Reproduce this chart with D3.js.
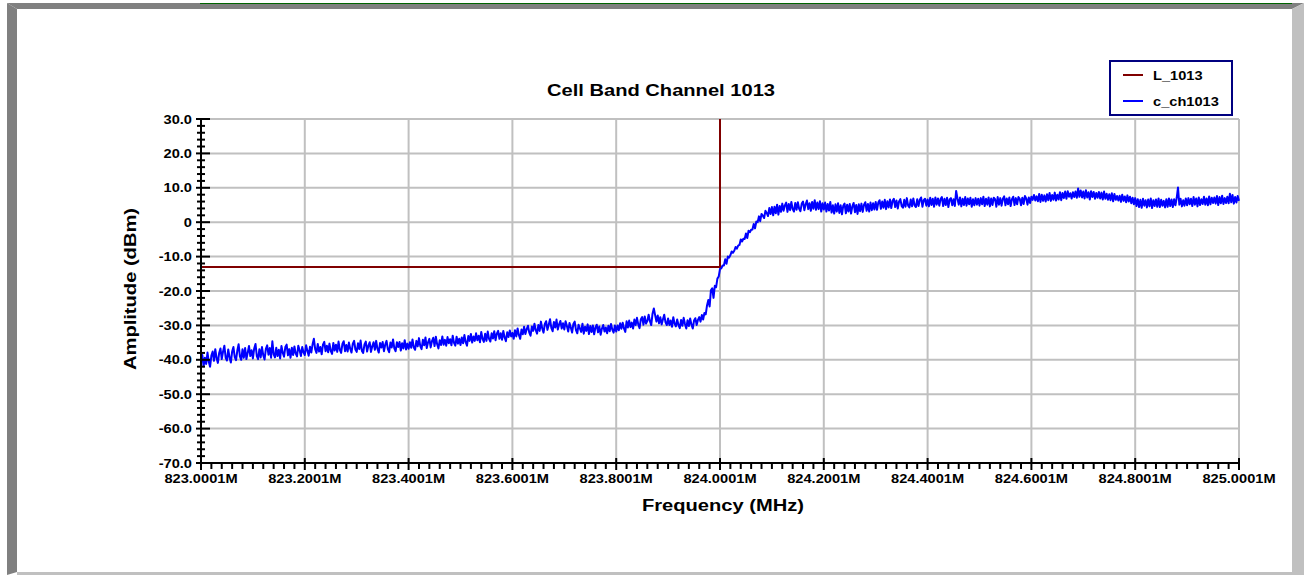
<!DOCTYPE html>
<html>
<head>
<meta charset="utf-8">
<script src="https://cdn.jsdelivr.net/npm/d3@7"></script>
<style>
  body { margin: 0; background: #fff; }
  text { font-family: "Liberation Sans", Arial, sans-serif; font-weight: bold; fill: #000; }
</style>
</head>
<body>
<script>
// chart data
const title = "Cell Band Channel 1013";
const xTicks = [823.0001, 823.2001, 823.4001, 823.6001, 823.8001, 824.0001, 824.2001, 824.4001, 824.6001, 824.8001, 825.0001];
const yTicks = [-70, -60, -50, -40, -30, -20, -10, 0, 10, 20, 30];
const seriesNames = ["L_1013", "c_ch1013"];
const seriesColors = ["#800000", "#0000ff"];

// limit line: [freq, dBm]
const limitLine = [[823.0001, -13], [824.0001, -13], [824.0001, 30]];

// measured trace, one value every 0.0025 MHz starting at 823.0001
const traceStart = 823.0001;
const traceStep = 0.0025;
const trace = [
  -40.8,-38.6,-41.9,-39.4,-41.2,-37.9,-40.6,-42.0,-38.8,-37.6,-40.3,-36.9,-39.5,-40.9,-38.0,-36.7,-39.8,-37.6,-35.9,-39.4,
  -40.2,-37.0,-39.3,-40.8,-37.6,-36.3,-39.2,-40.1,-37.3,-35.5,-39.0,-40.0,-36.9,-39.4,-36.6,-39.8,-37.9,-36.0,-38.9,-37.2,
  -39.6,-36.7,-35.4,-38.9,-39.8,-36.9,-39.3,-36.3,-38.7,-39.9,-36.8,-35.8,-38.5,-36.6,-39.4,-34.6,-38.4,-39.3,-36.5,-38.9,
  -37.1,-39.6,-36.0,-37.9,-39.1,-36.3,-35.6,-38.7,-36.9,-39.4,-36.5,-38.6,-36.1,-38.2,-39.0,-35.9,-37.2,-38.9,-36.3,-37.8,
  -38.6,-35.8,-37.4,-38.8,-36.2,-37.9,-35.5,-33.9,-36.9,-38.0,-35.4,-37.6,-36.3,-38.4,-35.6,-34.8,-37.5,-35.9,-37.8,-35.3,
  -37.4,-38.3,-35.1,-37.3,-35.6,-37.7,-34.7,-37.1,-38.0,-35.4,-34.6,-37.5,-35.7,-37.6,-35.0,-36.8,-37.9,-35.3,-34.5,-37.0,
  -37.7,-35.2,-36.9,-34.4,-37.4,-38.0,-35.5,-34.7,-37.6,-35.9,-34.9,-37.7,-36.1,-34.9,-37.1,-34.5,-36.8,-37.9,-35.1,-36.4,
  -34.8,-37.5,-35.6,-34.5,-36.9,-37.8,-35.0,-36.4,-34.1,-36.7,-37.5,-34.9,-36.3,-34.8,-37.3,-35.2,-36.7,-34.3,-37.0,-35.3,
  -36.8,-34.9,-36.5,-34.1,-36.4,-37.1,-34.5,-36.1,-33.7,-36.0,-36.9,-34.2,-35.8,-33.5,-36.6,-34.9,-33.9,-36.4,-34.6,-33.6,
  -36.0,-33.3,-35.5,-36.7,-34.3,-35.7,-33.2,-35.6,-34.2,-35.9,-33.4,-35.2,-34.0,-35.8,-33.0,-35.1,-35.9,-33.3,-35.3,-33.9,
  -35.7,-33.5,-35.2,-32.8,-34.9,-35.9,-33.1,-34.5,-32.5,-35.0,-33.2,-34.5,-32.3,-34.3,-33.0,-34.9,-31.9,-33.9,-34.8,-32.4,
  -34.5,-31.8,-33.9,-34.7,-32.3,-33.8,-31.7,-34.3,-32.4,-31.6,-33.9,-32.3,-34.2,-31.6,-33.5,-34.6,-32.0,-33.4,-31.5,-33.2,
  -32.2,-33.9,-31.4,-33.2,-30.9,-32.8,-33.9,-31.2,-32.6,-30.4,-32.5,-31.1,-30.1,-32.1,-33.0,-30.3,-31.6,-29.5,-31.4,-32.4,
  -29.9,-31.6,-28.9,-30.9,-32.1,-29.6,-28.8,-31.3,-29.8,-28.2,-30.7,-31.7,-29.0,-30.6,-28.3,-31.2,-29.7,-28.7,-30.9,-29.4,
  -31.2,-28.8,-30.2,-31.8,-29.3,-30.6,-32.1,-29.6,-28.9,-31.4,-32.3,-29.8,-30.9,-31.9,-29.5,-32.4,-30.4,-31.6,-29.7,-32.5,
  -30.2,-31.9,-30.0,-32.6,-30.6,-29.8,-32.0,-30.3,-32.7,-30.9,-29.9,-31.8,-30.6,-32.3,-30.1,-31.7,-29.6,-31.2,-32.1,-30.0,
  -31.8,-30.0,-31.4,-29.4,-31.0,-29.2,-30.9,-31.9,-28.8,-30.6,-28.6,-30.5,-29.2,-30.9,-28.3,-29.9,-27.8,-29.7,-30.8,-28.2,
  -27.6,-29.8,-27.4,-29.5,-28.7,-26.9,-28.8,-29.9,-26.6,-25.1,-27.0,-28.9,-27.1,-29.4,-27.6,-29.7,-28.3,-26.9,-29.1,-29.9,
  -28.0,-29.9,-28.6,-30.4,-27.6,-29.5,-30.3,-28.3,-29.9,-30.8,-28.4,-30.1,-27.8,-29.6,-30.9,-28.5,-30.2,-28.0,-29.8,-30.9,
  -28.6,-27.9,-29.9,-28.4,-27.6,-28.9,-27.0,-28.3,-26.4,-26.8,-24.2,-22.6,-24.5,-19.8,-19.2,-22.0,-18.5,-18.9,-16.4,-15.8,
  -13.6,-13.4,-12.6,-12.6,-10.8,-12.1,-10.0,-10.3,-9.6,-8.5,-8.9,-8.3,-7.2,-7.7,-6.8,-6.6,-5.0,-5.6,-4.8,-4.9,
  -3.3,-4.6,-2.5,-2.9,-2.2,-2.1,-0.5,-1.8,0.2,0.0,1.7,0.3,2.4,1.9,1.2,3.3,2.7,1.8,4.1,2.4,
  4.4,2.0,4.5,2.6,5.1,2.2,4.7,3.0,5.4,3.3,4.9,5.7,3.0,5.3,3.5,5.9,3.8,3.1,5.6,3.6,
  5.8,3.9,3.2,5.4,6.0,3.5,5.2,6.3,3.8,5.5,3.3,5.9,3.9,6.4,3.6,5.7,3.8,6.1,3.1,5.5,
  3.7,5.7,3.1,5.3,3.4,5.9,2.8,4.9,2.5,5.2,3.1,5.5,2.7,4.9,2.3,4.8,5.4,2.6,5.1,3.1,
  5.3,2.5,4.6,5.6,2.9,5.0,2.4,5.2,3.2,5.4,3.0,5.1,5.8,3.3,5.3,3.1,5.7,3.5,5.5,3.7,
  5.9,3.6,5.7,6.4,3.9,6.0,4.2,6.5,3.8,6.1,4.3,6.6,4.1,6.2,6.8,4.4,6.3,4.0,6.0,6.7,
  4.7,4.2,6.5,4.5,7.0,4.8,4.3,6.6,4.6,6.9,4.9,4.4,6.7,4.7,6.5,7.2,4.5,6.4,6.8,4.8,
  6.6,4.6,7.1,5.0,6.8,4.5,7.2,5.1,6.9,4.8,6.7,7.3,4.7,6.8,5.0,7.1,4.4,6.6,7.0,4.9,
  6.7,4.7,9.1,6.9,5.1,7.2,4.6,6.8,5.0,7.3,4.8,6.9,5.2,7.1,4.5,6.7,4.9,7.0,5.1,6.8,
  4.8,7.0,5.2,7.4,4.7,6.8,5.1,7.2,4.6,6.9,5.0,7.1,6.7,4.5,7.3,5.1,7.0,4.8,6.8,7.5,
  4.9,6.9,5.2,7.2,4.7,6.7,7.4,5.0,7.0,5.2,7.3,6.8,4.9,7.1,5.3,7.6,6.9,5.1,7.2,5.6,
  7.4,6.5,7.9,6.3,7.5,6.1,8.2,5.9,8.0,6.2,7.8,6.0,8.1,6.4,8.5,6.2,7.9,6.5,8.6,6.3,
  8.0,6.6,8.7,6.4,8.5,7.0,8.9,6.8,9.0,7.4,8.4,6.9,8.7,7.3,8.9,7.1,9.8,7.4,9.2,7.2,
  8.9,6.9,9.3,7.2,8.7,6.6,9.0,7.3,8.8,6.8,8.5,7.1,8.8,6.9,8.6,6.6,8.9,6.8,8.3,6.5,
  8.1,6.4,8.4,6.1,8.2,6.5,7.6,6.3,7.7,5.9,8.0,6.2,7.5,5.8,7.8,6.0,7.4,5.5,7.1,5.2,
  7.0,4.7,6.7,4.4,6.5,4.2,6.8,4.8,6.4,4.3,6.6,4.6,6.9,4.1,6.4,4.7,6.6,4.5,6.9,4.4,
  6.5,4.8,6.2,4.3,6.7,4.5,6.9,4.7,6.6,4.4,6.7,4.9,7.1,10.1,5.1,6.8,4.6,6.4,4.8,6.9,
  4.9,7.0,5.2,6.8,4.7,7.3,5.1,6.9,4.6,7.2,5.0,6.7,5.3,7.4,5.1,6.9,4.9,7.5,5.2,7.1,
  5.6,7.2,5.4,7.6,5.0,7.3,5.5,7.7,5.3,7.0,5.6,7.4,5.5,8.3,5.8,7.9,5.4,7.3,5.7,7.6,
  6.2
];

const W = 1304, H = 575;
const plot = { left: 201, right: 1239, top: 119, bottom: 463 };
const stretch = 1.22; // the original text is drawn wide

const svg = d3.select("body").append("svg")
    .attr("width", W)
    .attr("height", H);

// frame (bevelled panel)
svg.append("rect").attr("x", 0).attr("y", 0).attr("width", W).attr("height", H).attr("fill", "#fff");
svg.append("polygon")
    .attr("points", "7,3 1304,3 1292,9 17,9")
    .attr("fill", "#808080");
svg.append("polygon")
    .attr("points", "7,3 17,9 17,572 7,575")
    .attr("fill", "#808080");
svg.append("polygon")
    .attr("points", "1292,9 1304,3 1304,575 1292,575")
    .attr("fill", "#c0c0c0");
svg.append("rect").attr("x", 17).attr("y", 572).attr("width", 1287).attr("height", 3).attr("fill", "#c0c0c0");
svg.append("line")
    .attr("x1", 200).attr("x2", 1292).attr("y1", 3.5).attr("y2", 3.5)
    .attr("stroke", "#006400").attr("stroke-width", 1);

const x = d3.scaleLinear().domain([823.0001, 825.0001]).range([plot.left, plot.right]);
const y = d3.scaleLinear().domain([-70, 30]).range([plot.bottom, plot.top]);

// grid
const grid = svg.append("g").attr("stroke", "#c0c0c0").attr("stroke-width", 2);
grid.selectAll(".gx").data(xTicks.slice(1)).enter().append("line")
    .attr("x1", d => x(d)).attr("x2", d => x(d))
    .attr("y1", plot.top).attr("y2", plot.bottom);
grid.selectAll(".gy").data(yTicks.slice(1)).enter().append("line")
    .attr("x1", plot.left).attr("x2", plot.right)
    .attr("y1", d => y(d)).attr("y2", d => y(d));

// series
const line = d3.line().x(d => x(d[0])).y(d => y(d[1]));
const traceData = trace.map((v, i) => [traceStart + i * traceStep, v]);

svg.append("path")
    .datum(limitLine)
    .attr("d", line)
    .attr("fill", "none")
    .attr("stroke", seriesColors[0])
    .attr("stroke-width", 2);

svg.append("path")
    .datum(traceData)
    .attr("d", line)
    .attr("fill", "none")
    .attr("stroke", seriesColors[1])
    .attr("stroke-width", 2)
    .attr("stroke-linejoin", "round");

// axes
const axisG = svg.append("g").attr("stroke", "#000").attr("stroke-width", 2);
axisG.append("line").attr("x1", plot.left).attr("x2", plot.left).attr("y1", plot.top - 1).attr("y2", plot.bottom + 1);
axisG.append("line").attr("x1", plot.left - 1).attr("x2", plot.right + 1).attr("y1", plot.bottom).attr("y2", plot.bottom);

const yMinor = d3.range(-70, 30.01, 2).filter(v => v % 10 !== 0);
axisG.selectAll(".ym").data(yMinor).enter().append("line")
    .attr("x1", plot.left - 4).attr("x2", plot.left + 4)
    .attr("y1", d => y(d)).attr("y2", d => y(d));
axisG.selectAll(".yM").data(yTicks).enter().append("line")
    .attr("x1", plot.left - 5).attr("x2", plot.left + 9)
    .attr("y1", d => y(d)).attr("y2", d => y(d));

const xMinor = d3.range(0, 101).filter(i => i % 10 !== 0).map(i => 823.0001 + i * 0.02);
axisG.selectAll(".xm").data(xMinor).enter().append("line")
    .attr("x1", d => x(d)).attr("x2", d => x(d))
    .attr("y1", plot.bottom).attr("y2", plot.bottom + 6);
axisG.selectAll(".xM").data(xTicks).enter().append("line")
    .attr("x1", d => x(d)).attr("x2", d => x(d))
    .attr("y1", plot.bottom - 5).attr("y2", plot.bottom + 7);

// tick labels
svg.selectAll(".yl").data(yTicks).enter().append("text")
    .attr("transform", d => `translate(${plot.left - 9},${y(d) + 4.5}) scale(${stretch},1)`)
    .attr("text-anchor", "end")
    .attr("font-size", 12)
    .text(d => d === 0 ? "0" : d.toFixed(1));

svg.selectAll(".xl").data(xTicks).enter().append("text")
    .attr("transform", d => `translate(${x(d)},${plot.bottom + 20}) scale(${stretch},1)`)
    .attr("text-anchor", "middle")
    .attr("font-size", 12)
    .text(d => d.toFixed(4) + "M");

// titles
svg.append("text")
    .attr("transform", `translate(661,96) scale(${stretch},1)`)
    .attr("text-anchor", "middle")
    .attr("font-size", 16.5)
    .text(title);

svg.append("text")
    .attr("transform", `translate(723,511) scale(${stretch},1)`)
    .attr("text-anchor", "middle")
    .attr("font-size", 16.5)
    .text("Frequency (MHz)");

svg.append("text")
    .attr("transform", `translate(136,289) rotate(-90) scale(${stretch},1)`)
    .attr("text-anchor", "middle")
    .attr("font-size", 16.5)
    .text("Amplitude (dBm)");

// legend
const legend = svg.append("g");
legend.append("rect")
    .attr("x", 1110).attr("y", 61).attr("width", 122).attr("height", 54)
    .attr("fill", "#fff").attr("stroke", "#000080").attr("stroke-width", 2);
seriesNames.forEach((name, i) => {
    const ly = 75 + i * 26;
    legend.append("line")
        .attr("x1", 1123).attr("x2", 1143).attr("y1", ly).attr("y2", ly)
        .attr("stroke", seriesColors[i]).attr("stroke-width", 2);
    legend.append("text")
        .attr("transform", `translate(1153,${ly + 4.5}) scale(${stretch},1)`)
        .attr("font-size", 12)
        .text(name);
});
</script>
</body>
</html>
